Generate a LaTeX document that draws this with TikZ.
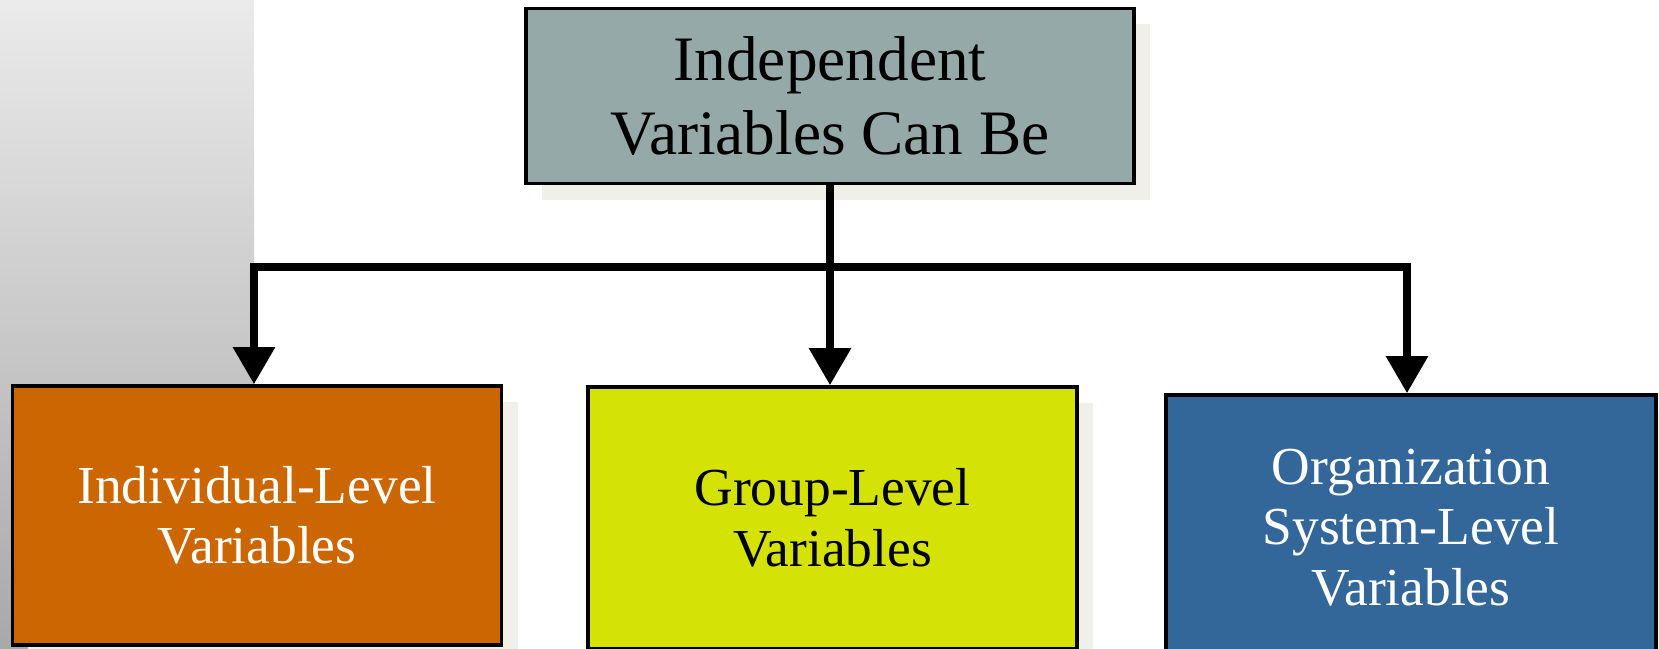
\documentclass[tikz,border=0pt]{standalone}
\usepackage{fontspec}
\setmainfont{Liberation Serif}
\usepackage{tikz}
\usetikzlibrary{arrows.meta}
\usetikzlibrary{shadows}
\definecolor{headfill}{RGB}{149,170,168}
\definecolor{indfill}{RGB}{204,102,0}
\definecolor{grpfill}{RGB}{212,226,6}
\definecolor{orgfill}{RGB}{51,102,153}
\definecolor{shadowgray}{RGB}{240,239,234}
\tikzstyle{varbox}=[draw=black, line width=1pt, inner sep=0pt, align=center,
	drop shadow={shadow xshift=0.16cm, shadow yshift=-0.16cm, fill=shadowgray, opacity=1}]
\tikzstyle{headbox}=[varbox, fill=headfill, minimum width=6.08cm, minimum height=1.75cm,
	font=\fontsize{18}{20.8}\selectfont]
\tikzstyle{levelbox}=[varbox, minimum width=4.89cm, font=\fontsize{15.2}{17.2}\selectfont]
\tikzstyle{link}=[line width=2.1pt, black]
\tikzstyle{linkarrow}=[link, -{Triangle[length=10.5pt,width=11.5pt]}]

\begin{document}
\begin{tikzpicture}[x=0.01cm, y=-0.01cm]
	\useasboundingbox (0,0) rectangle (1659,649);
	\shade[top color=black!8, bottom color=black!34] (0,0) rectangle (254,649);
	% the boxes
	\node[headbox] (head) at (830,96) {Independent\\Variables Can Be};
	\node[levelbox, fill=indfill, text=white, minimum height=2.59cm] (ind) at (257,515.5) {Individual-Level\\Variables};
	\node[levelbox, fill=grpfill, minimum height=2.62cm] (grp) at (832.5,518) {Group-Level\\Variables};
	\node[levelbox, fill=orgfill, text=white, minimum width=4.90cm, minimum height=2.65cm] (org) at (1411,527.5) {Organization\\System-Level\\Variables};
	% connectors
	\coordinate (hub) at (830,267);
	\draw[link] (head.south) -- (hub);
	\draw[linkarrow] (hub) -| ([xshift=-0.03cm]ind.north);
	\draw[linkarrow] (hub) -- (hub |- grp.north);
	\draw[linkarrow] (hub) -| ([xshift=-0.04cm]org.north);
\end{tikzpicture}
\end{document}
